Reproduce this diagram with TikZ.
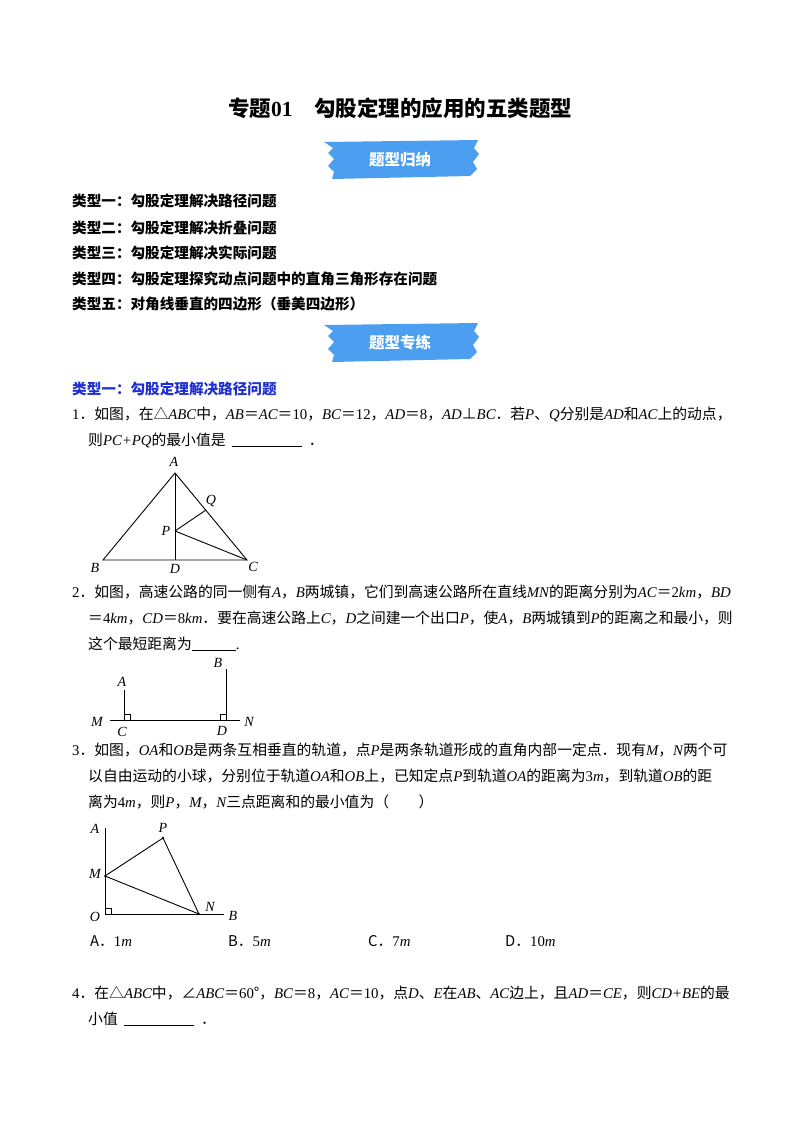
\documentclass[tikz,border=0pt]{standalone}
\usepackage{fontspec}
\setmainfont{Noto Sans CJK SC}
\newfontfamily\lat{Liberation Serif}
\newcommand{\mi}[1]{{\lat\itshape #1}}
\newcommand{\nm}[1]{{\lat #1}}
\definecolor{bann}{HTML}{4C9EF0}
\definecolor{tblue}{HTML}{1F2FD0}
\begin{document}
\begin{tikzpicture}[x=1pt,y=-1pt,
  txt/.style={anchor=west,inner sep=0pt,font=\fontsize{14.8}{15}\selectfont},
  lab/.style={inner sep=0pt,font=\fontsize{14}{15}\lat\itshape},
  ln/.style={line width=0.9pt}]
\useasboundingbox (0,0) rectangle (800,1132);
\node[inner sep=0pt,font=\fontsize{21.5}{22}\bfseries] (title) at (400,108) {专题\nm{\bfseries 01}\quad 勾股定理的应用的五类题型};
% banners
\foreach \yy/\t/\nn in {160/题型归纳/b1,343/题型专练/b2}{
 \fill[bann] (324,\yy-18) -- (478,\yy-20) -- (474,\yy-12) -- (479,\yy-6) -- (473,\yy+2) -- (477,\yy+9) -- (470,\yy+16) -- (332,\yy+19) -- (334,\yy+12) -- (328,\yy+6) -- (334,\yy-1) -- (328,\yy-7) -- (333,\yy-12) -- cycle;
 \node[inner sep=0pt,text=white,font=\fontsize{15.5}{16}\bfseries] (\nn) at (400,\yy) {\t};
}
\foreach \yy/\t [count=\i] in {201/类型一：勾股定理解决路径问题,228/类型二：勾股定理解决折叠问题,253/类型三：勾股定理解决实际问题,279/类型四：勾股定理探究动点问题中的直角三角形存在问题,304/类型五：对角线垂直的四边形（垂美四边形）}
 \node[txt,font=\fontsize{14.6}{15}\bfseries] (t\i) at (72,\yy) {\t};
\node[txt,font=\fontsize{14.6}{15}\bfseries,text=tblue] (h1) at (72,389) {类型一：勾股定理解决路径问题};
% Q1
\node[txt] (q1a) at (72,414) {\nm{1}．如图，在△\mi{ABC}中，\mi{AB}＝\mi{AC}＝\nm{10}，\mi{BC}＝\nm{12}，\mi{AD}＝\nm{8}，\mi{AD}⊥\mi{BC}．若\mi{P}、\mi{Q}分别是\mi{AD}和\mi{AC}上的动点，};
\node[txt] (q1b) at (88,440) {则\mi{PC+PQ}的最小值是\ \ \underline{\hspace{70pt}}\ \ ．};
\coordinate (A1) at (175,473); \coordinate (B1) at (103,560); \coordinate (C1) at (247,560);
\coordinate (D1) at (175,560); \coordinate (P1) at (175,531); \coordinate (Q1) at (206,510);
\draw[ln] (A1) -- (B1) -- (C1) -- cycle; \draw[ln] (A1) -- (D1); \draw[ln] (P1) -- (Q1); \draw[ln] (P1) -- (C1);
\node[lab] (lA1) at (174,462) {A}; \node[lab] (lB1) at (95,568) {B}; \node[lab] (lC1) at (253,567) {C};
\node[lab] (lD1) at (175,569) {D}; \node[lab] (lP1) at (166,531) {P}; \node[lab] (lQ1) at (211,501) {Q};
% Q2
\node[txt] (q2a) at (72,592) {\nm{2}．如图，高速公路的同一侧有\mi{A}，\mi{B}两城镇，它们到高速公路所在直线\mi{MN}的距离分别为\mi{AC}＝\nm{2}\mi{km}，\mi{BD}};
\node[txt] (q2b) at (88,618) {＝\nm{4}\mi{km}，\mi{CD}＝\nm{8}\mi{km}．要在高速公路上\mi{C}，\mi{D}之间建一个出口\mi{P}，使\mi{A}，\mi{B}两城镇到\mi{P}的距离之和最小，则};
\node[txt] (q2c) at (88,644) {这个最短距离为\underline{\hspace{44pt}}\nm{.}};
\coordinate (M2) at (110,720); \coordinate (N2) at (240,720);
\coordinate (C2) at (124,720); \coordinate (A2) at (124,690);
\coordinate (D2) at (226,720); \coordinate (B2) at (226,669);
\draw[ln] (M2) -- (N2); \draw[ln] (C2) -- (A2); \draw[ln] (D2) -- (B2);
\draw[line width=0.6pt] (124,714) -- (130,714) -- (130,720);
\draw[line width=0.6pt] (226,714) -- (220,714) -- (220,720);
\node[lab] (lM2) at (97,722) {M}; \node[lab] (lN2) at (249,722) {N};
\node[lab] (lC2) at (122,732) {C}; \node[lab] (lD2) at (222,731) {D};
\node[lab] (lA2) at (122,682) {A}; \node[lab] (lB2) at (218,663) {B};
% Q3
\node[txt] (q3a) at (72,750) {\nm{3}．如图，\mi{OA}和\mi{OB}是两条互相垂直的轨道，点\mi{P}是两条轨道形成的直角内部一定点．现有\mi{M}，\mi{N}两个可};
\node[txt] (q3b) at (88,776) {以自由运动的小球，分别位于轨道\mi{OA}和\mi{OB}上，已知定点\mi{P}到轨道\mi{OA}的距离为\nm{3}\mi{m}，到轨道\mi{OB}的距};
\node[txt] (q3c) at (88,802) {离为\nm{4}\mi{m}，则\mi{P}，\mi{M}，\mi{N}三点距离和的最小值为（\qquad）};
\coordinate (O3) at (105,914); \coordinate (A3) at (105,828); \coordinate (B3) at (224,914);
\coordinate (M3) at (105,876); \coordinate (P3) at (163,838); \coordinate (N3) at (199,914);
\draw[ln] (A3) -- (O3) -- (B3); \draw[ln] (M3) -- (P3) -- (N3) -- (M3);
\fill (P3) circle (1.3); \fill (M3) circle (1); \fill (N3) circle (1);
\draw[line width=0.6pt] (105,908) -- (111,908) -- (111,914);
\node[lab] (lA3) at (95,829) {A}; \node[lab] (lP3) at (163,828) {P}; \node[lab] (lM3) at (95,874) {M};
\node[lab] (lN3) at (210,907) {N}; \node[lab] (lO3) at (95,917) {O}; \node[lab] (lB3) at (233,916) {B};
\node[txt] (oA) at (90,941) {A．\nm{1}\mi{m}};
\node[txt] (oB) at (228,941) {B．\nm{5}\mi{m}};
\node[txt] (oC) at (368,941) {C．\nm{7}\mi{m}};
\node[txt] (oD) at (505,941) {D．\nm{10}\mi{m}};
% Q4
\node[txt] (q4a) at (72,993) {\nm{4}．在△\mi{ABC}中，∠\mi{ABC}＝\nm{60}°，\mi{BC}＝\nm{8}，\mi{AC}＝\nm{10}，点\mi{D}、\mi{E}在\mi{AB}、\mi{AC}边上，且\mi{AD}＝\mi{CE}，则\mi{CD+BE}的最};
\node[txt] (q4b) at (88,1019) {小值\ \ \underline{\hspace{70pt}}\ \ ．};
\end{tikzpicture}
\end{document}
